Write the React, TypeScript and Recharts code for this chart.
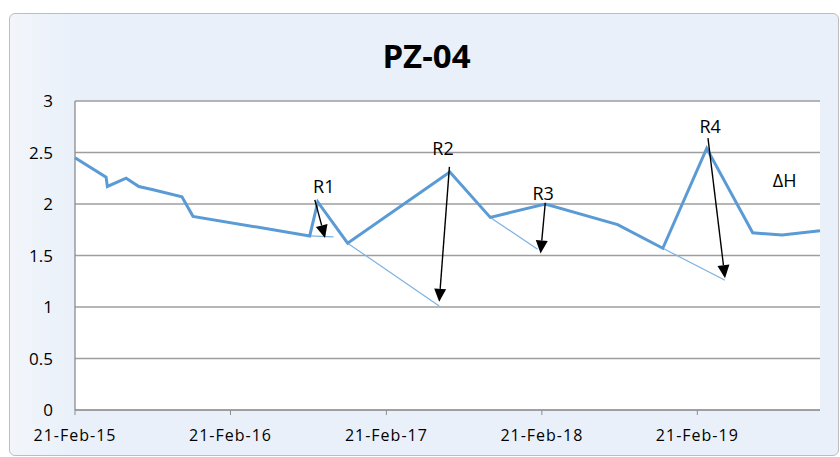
import React from "react";
import {
  LineChart,
  Line,
  XAxis,
  YAxis,
  CartesianGrid,
  ReferenceLine,
  ReferenceDot,
} from "recharts";

// groundwater level readings, PZ-04
const dates = [
  "2015-02-21", "2015-05-05", "2015-05-08", "2015-06-21", "2015-07-21",
  "2015-08-21", "2015-10-30", "2015-11-25", "2016-08-25", "2016-09-13",
  "2016-11-22", "2017-07-20", "2017-10-23", "2018-03-01", "2018-08-18",
  "2018-12-02", "2019-03-15", "2019-07-01", "2019-09-08", "2019-12-06",
];
const levels = [
  2.45, 2.26, 2.17, 2.25, 2.17, 2.14, 2.07, 1.88, 1.69, 2.02,
  1.62, 2.31, 1.87, 2.0, 1.8, 1.57, 2.54, 1.72, 1.7, 1.74,
];

const yTicks = [0, 0.5, 1, 1.5, 2, 2.5, 3];
const xTickDates = ["2015-02-21", "2016-02-21", "2017-02-21", "2018-02-21", "2019-02-21"];

// extrapolated recession curves [date, level]
const recessionFrom: [string, number][] = [
  ["2016-08-25", 1.69], ["2016-11-22", 1.62], ["2017-10-23", 1.87], ["2018-12-02", 1.57],
];
const recessionTo: [string, number][] = [
  ["2016-10-20", 1.68], ["2017-06-25", 1.01], ["2018-02-11", 1.56], ["2019-04-27", 1.26],
];

// rise arrows (peak -> recession curve)
const arrowFrom: [string, number][] = [
  ["2016-09-06", 2.04], ["2017-07-19", 2.36], ["2018-03-01", 2.01], ["2019-03-18", 2.64],
];
const arrowTo: [string, number][] = [
  ["2016-09-30", 1.67], ["2017-06-25", 1.05], ["2018-02-18", 1.52], ["2019-04-27", 1.28],
];

const noteText = ["R1", "R2", "R3", "R4", "ΔH"];
const noteDates = ["2016-09-27", "2017-07-04", "2018-02-24", "2019-03-23", "2019-09-14"];
const noteLevels = [2.17, 2.54, 2.11, 2.76, 2.23];

const ts = (s: string) => Date.parse(s + "T00:00:00Z");
const MONTHS = ["Jan","Feb","Mar","Apr","May","Jun","Jul","Aug","Sep","Oct","Nov","Dec"];
const fmtDate = (v: number) => {
  const d = new Date(v);
  return `${d.getUTCDate()}-${MONTHS[d.getUTCMonth()]}-${String(d.getUTCFullYear()).slice(2)}`;
};

const data = dates.map((d, i) => ({ t: ts(d), level: levels[i] }));
const FONT = "'Open Sans', sans-serif";

const Arrow = (p: any) => {
  const { x1, y1, x2, y2 } = p;
  const a = Math.atan2(y2 - y1, x2 - x1);
  const L = 13, W = 6;
  const c = Math.cos(a), s = Math.sin(a);
  const bx = x2 - L * c, by = y2 - L * s;
  const pts = `${x2},${y2} ${bx + W * s},${by - W * c} ${bx - W * s},${by + W * c}`;
  return (
    <g>
      <line x1={x1} y1={y1} x2={bx} y2={by} stroke="#000" strokeWidth={1.4} />
      <polygon points={pts} fill="#000" />
    </g>
  );
};

export default function App() {
  return (
    <div style={{ position: "absolute", left: 0, top: 0, width: 840, height: 457, background: "#fff" }}>
      <div
        style={{
          position: "absolute", left: 9, top: 13, width: 828, height: 441,
          border: "1.5px solid #bdbdbd", borderRadius: 6,
          background: "linear-gradient(to right, #f2f6fb, #e9f0f9 8%)",
        }}
      />
      <div
        style={{
          position: "absolute", left: 0, width: 853, top: 33, textAlign: "center",
          fontFamily: FONT, fontWeight: 700, fontSize: 33, color: "#000",
        }}
      >
        PZ-04
      </div>
      <div style={{ position: "absolute", left: 0, top: 0 }}>
        <LineChart width={840} height={457} data={data} margin={{ top: 101, right: 20, bottom: 7, left: 15 }}>
          <CartesianGrid vertical={false} stroke="#9e9e9e" strokeWidth={1.3} fill="#fff" />
          <XAxis
            dataKey="t"
            type="number"
            scale="time"
            domain={[ts(dates[0]), ts(dates[dates.length - 1])]}
            ticks={xTickDates.map(ts)}
            tickFormatter={fmtDate}
            height={40}
            tickSize={5}
            tickMargin={15}
            stroke="#8c8c8c"
            tick={{ fill: "#000", fontSize: 16, fontFamily: FONT, letterSpacing: 1 }}
          />
          <YAxis
            domain={[0, 3]}
            ticks={yTicks}
            width={60}
            tickSize={0}
            tickMargin={22}
            stroke="#8c8c8c"
            strokeWidth={1.3}
            tick={{ fill: "#000", fontSize: 17, fontFamily: FONT }}
          />
          {recessionFrom.map((f, i) => (
            <ReferenceLine
              key={"r" + i}
              segment={[
                { x: ts(f[0]), y: f[1] },
                { x: ts(recessionTo[i][0]), y: recessionTo[i][1] },
              ]}
              stroke="#7fb2e0"
              strokeWidth={1.2}
            />
          ))}
          <Line
            type="linear"
            dataKey="level"
            stroke="#5b9bd5"
            strokeWidth={3}
            dot={false}
            isAnimationActive={false}
          />
          {arrowFrom.map((f, i) => (
            <ReferenceLine
              key={"a" + i}
              segment={[
                { x: ts(f[0]), y: f[1] },
                { x: ts(arrowTo[i][0]), y: arrowTo[i][1] },
              ]}
              shape={Arrow}
            />
          ))}
          {noteText.map((txt, i) => (
            <ReferenceDot
              key={"n" + i}
              x={ts(noteDates[i])}
              y={noteLevels[i]}
              r={0}
              shape={(p: any) => (
                <text
                  x={p.cx}
                  y={p.cy}
                  textAnchor="middle"
                  dominantBaseline="central"
                  fontFamily={FONT}
                  fontSize={18}
                  fill="#000"
                >
                  {txt}
                </text>
              )}
            />
          ))}
        </LineChart>
      </div>
    </div>
  );
}
